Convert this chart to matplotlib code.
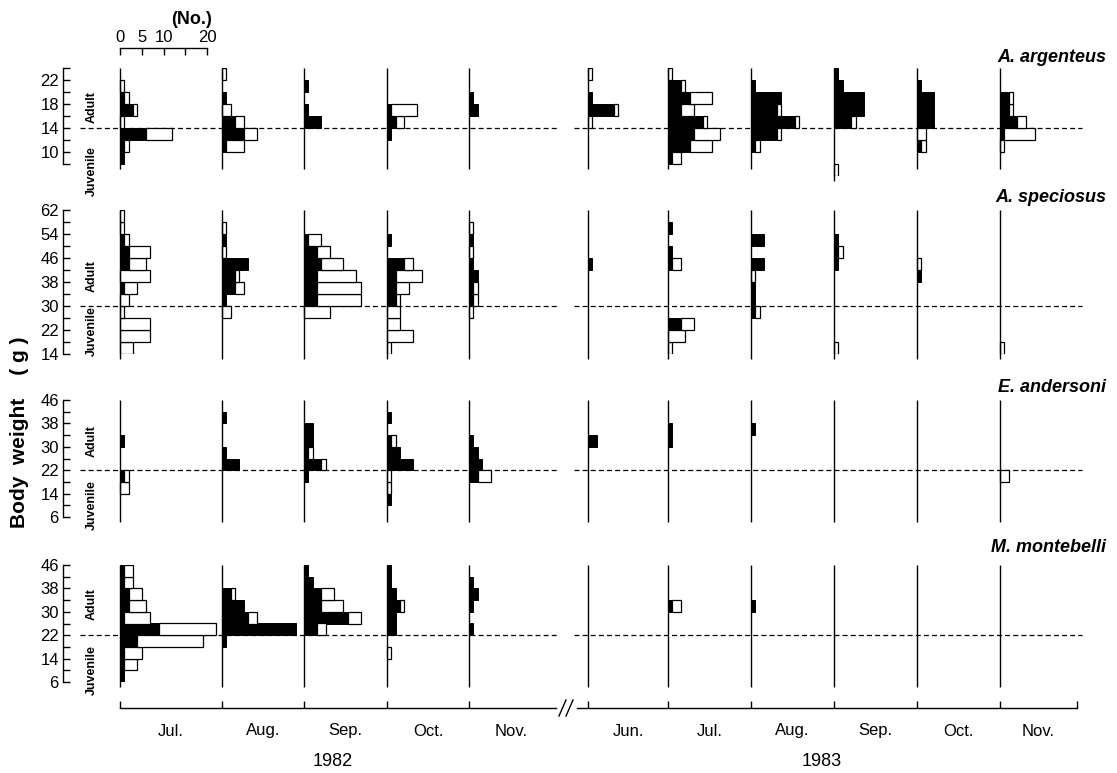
import matplotlib
matplotlib.use("Agg")
import matplotlib.pyplot as plt
import numpy as np

# sampling occasions: 1982 Jul..Nov, 1983 Jun..Nov
months = ["Jul.", "Aug.", "Sep.", "Oct.", "Nov.", "Jun.", "Jul.", "Aug.", "Sep.", "Oct.", "Nov."]
years = ["1982", "1983"]
species = ["A. argenteus", "A. speciosus", "E. andersoni", "M. montebelli"]

# A. argenteus, 2 g classes (lower edges)
arg_bins = [6, 8, 10, 12, 14, 16, 18, 20, 22]
arg_black = [
    [0, 1, 1, 6, 0, 3, 1, 0, 0],
    [0, 0, 1, 5, 3, 0, 1, 0, 0],
    [0, 0, 0, 0, 4, 1, 0, 1, 0],
    [0, 0, 0, 1, 2, 1, 0, 0, 0],
    [0, 0, 0, 0, 0, 2, 1, 0, 0],
    [0, 0, 0, 0, 0, 6, 1, 0, 0],
    [0, 1, 5, 6, 8, 3, 5, 3, 0],
    [0, 0, 1, 6, 10, 6, 7, 1, 0],
    [0, 0, 0, 0, 4, 7, 7, 2, 1],
    [0, 0, 1, 0, 4, 4, 4, 1, 0],
    [0, 0, 0, 1, 4, 2, 2, 0, 0],
]
arg_white = [
    [0, 0, 1, 6, 1, 1, 1, 1, 0],
    [0, 0, 4, 3, 2, 2, 0, 0, 1],
    [0, 0, 0, 0, 0, 0, 0, 0, 0],
    [0, 0, 0, 0, 2, 6, 0, 0, 0],
    [0, 0, 0, 0, 0, 0, 0, 0, 0],
    [0, 0, 0, 0, 1, 1, 0, 0, 1],
    [0, 2, 5, 6, 1, 3, 5, 1, 1],
    [0, 0, 1, 1, 1, 1, 0, 0, 0],
    [1, 0, 0, 0, 1, 0, 0, 0, 0],
    [0, 0, 1, 2, 0, 0, 0, 0, 0],
    [0, 0, 1, 7, 2, 1, 1, 0, 0],
]

# A. speciosus, 4 g classes
spe_bins = [14, 18, 22, 26, 30, 34, 38, 42, 46, 50, 54, 58]
spe_black = [
    [0, 0, 0, 0, 0, 1, 0, 2, 2, 1, 0, 0],
    [0, 0, 0, 0, 1, 3, 3, 6, 0, 1, 0, 0],
    [0, 0, 0, 0, 3, 3, 3, 4, 3, 1, 0, 0],
    [0, 0, 0, 0, 2, 2, 2, 4, 0, 1, 0, 0],
    [0, 0, 0, 0, 1, 1, 2, 1, 0, 1, 0, 0],
    [0, 0, 0, 0, 0, 0, 0, 1, 0, 0, 0, 0],
    [0, 0, 3, 0, 0, 0, 0, 1, 1, 0, 1, 0],
    [0, 0, 0, 1, 1, 1, 0, 3, 0, 3, 0, 0],
    [0, 0, 0, 0, 0, 0, 0, 1, 1, 1, 0, 0],
    [0, 0, 0, 0, 0, 0, 1, 0, 0, 0, 0, 0],
    [0, 0, 0, 0, 0, 0, 0, 0, 0, 0, 0, 0],
]
spe_white = [
    [3, 7, 7, 1, 2, 3, 7, 4, 5, 1, 1, 1],
    [0, 0, 0, 2, 0, 2, 1, 0, 1, 0, 1, 0],
    [0, 0, 0, 6, 10, 10, 9, 5, 3, 3, 0, 0],
    [1, 6, 3, 3, 1, 3, 6, 2, 0, 0, 0, 0],
    [0, 0, 0, 1, 1, 1, 0, 0, 1, 0, 1, 0],
    [0, 0, 0, 0, 0, 0, 0, 0, 0, 0, 0, 0],
    [1, 4, 3, 0, 0, 0, 0, 2, 0, 0, 0, 0],
    [0, 0, 0, 1, 0, 0, 1, 0, 0, 0, 0, 0],
    [1, 0, 0, 0, 0, 0, 0, 0, 1, 0, 0, 0],
    [0, 0, 0, 0, 0, 0, 0, 1, 0, 0, 0, 0],
    [1, 0, 0, 0, 0, 0, 0, 0, 0, 0, 0, 0],
]

# E. andersoni, 4 g classes
ande_bins = [6, 10, 14, 18, 22, 26, 30, 34, 38, 42]
ande_black = [
    [0, 0, 0, 1, 0, 0, 1, 0, 0, 0],
    [0, 0, 0, 0, 4, 1, 0, 0, 1, 0],
    [0, 0, 0, 1, 4, 1, 2, 2, 0, 0],
    [0, 1, 0, 0, 6, 3, 1, 0, 1, 0],
    [0, 0, 0, 2, 3, 2, 1, 0, 0, 0],
    [0, 0, 0, 0, 0, 0, 2, 0, 0, 0],
    [0, 0, 0, 0, 0, 0, 1, 1, 0, 0],
    [0, 0, 0, 0, 0, 0, 0, 1, 0, 0],
    [0, 0, 0, 0, 0, 0, 0, 0, 0, 0],
    [0, 0, 0, 0, 0, 0, 0, 0, 0, 0],
    [0, 0, 0, 0, 0, 0, 0, 0, 0, 0],
]
ande_white = [
    [0, 0, 2, 1, 0, 0, 0, 0, 0, 0],
    [0, 0, 0, 0, 0, 0, 0, 0, 0, 0],
    [0, 0, 0, 0, 1, 1, 0, 0, 0, 0],
    [0, 0, 1, 1, 0, 0, 1, 0, 0, 0],
    [0, 0, 0, 3, 0, 0, 0, 0, 0, 0],
    [0, 0, 0, 0, 0, 0, 0, 0, 0, 0],
    [0, 0, 0, 0, 0, 0, 0, 0, 0, 0],
    [0, 0, 0, 0, 0, 0, 0, 0, 0, 0],
    [0, 0, 0, 0, 0, 0, 0, 0, 0, 0],
    [0, 0, 0, 0, 0, 0, 0, 0, 0, 0],
    [0, 0, 0, 2, 0, 0, 0, 0, 0, 0],
]

# M. montebelli, 4 g classes
mont_bins = [6, 10, 14, 18, 22, 26, 30, 34, 38, 42]
mont_black = [
    [1, 1, 1, 4, 9, 1, 2, 2, 1, 1],
    [0, 0, 0, 1, 17, 6, 5, 2, 0, 0],
    [0, 0, 0, 0, 3, 10, 4, 4, 2, 1],
    [0, 0, 0, 0, 2, 2, 3, 2, 1, 1],
    [0, 0, 0, 0, 1, 0, 1, 2, 1, 0],
    [0, 0, 0, 0, 0, 0, 0, 0, 0, 0],
    [0, 0, 0, 0, 0, 0, 1, 0, 0, 0],
    [0, 0, 0, 0, 0, 0, 1, 0, 0, 0],
    [0, 0, 0, 0, 0, 0, 0, 0, 0, 0],
    [0, 0, 0, 0, 0, 0, 0, 0, 0, 0],
    [0, 0, 0, 0, 0, 0, 0, 0, 0, 0],
]
mont_white = [
    [0, 3, 4, 15, 13, 6, 4, 3, 2, 2],
    [0, 0, 0, 0, 0, 2, 0, 1, 0, 0],
    [0, 0, 0, 0, 2, 3, 5, 3, 0, 0],
    [0, 0, 1, 0, 0, 0, 1, 0, 0, 0],
    [0, 0, 0, 0, 0, 0, 0, 0, 0, 0],
    [0, 0, 0, 0, 0, 0, 0, 0, 0, 0],
    [0, 0, 0, 0, 0, 0, 2, 0, 0, 0],
    [0, 0, 0, 0, 0, 0, 0, 0, 0, 0],
    [0, 0, 0, 0, 0, 0, 0, 0, 0, 0],
    [0, 0, 0, 0, 0, 0, 0, 0, 0, 0],
    [0, 0, 0, 0, 0, 0, 0, 0, 0, 0],
]

adult_limit = [14, 30, 22, 22]

# ---- layout (pixels of the 1117x773 page) ----
W, H = 1117, 773
PX_FISH = 4.35                       # horizontal pixels per fish
base_px = [120, 222, 304, 387, 469, 588, 668, 751, 834, 917, 1000]
year_end_px = [553, 1077]
spine_px = 63
row_px = [(68, 176), (210, 354), (400, 517), (565, 682)]
row_lim = [(6, 24), (14, 62), (6, 46), (6, 46)]
spine_lim = [(8, 24), (14, 62), (6, 46), (6, 46)]
minor_step = [2, 4, 4, 4]
major_ticks = [[10, 14, 18, 22], [14, 22, 30, 38, 46, 54, 62],
               [6, 14, 22, 30, 38, 46], [6, 14, 22, 30, 38, 46]]
name_y = [58, 197, 387, 547]
adult_y = [17.5, 40, 32, 32.5]
juv_y = [6.8, 21.5, 10, 10]

plt.rcParams['font.family'] = ['Liberation Sans', 'DejaVu Sans']

fig = plt.figure(figsize=(W / 100, H / 100), dpi=100)
lay = fig.add_axes([0, 0, 1, 1])
lay.set_xlim(0, W)
lay.set_ylim(H, 0)
lay.axis("off")

all_bins = [arg_bins, spe_bins, ande_bins, mont_bins]
all_black = [arg_black, spe_black, ande_black, mont_black]
all_white = [arg_white, spe_white, ande_white, mont_white]
bin_w = [2, 4, 4, 4]

base = np.array(base_px) / PX_FISH

for r in range(4):
    top, bot = row_px[r]
    ax = fig.add_axes([0, 1 - bot / H, 1, (bot - top) / H])
    ax.patch.set_visible(False)
    ax.set_xlim(0, W / PX_FISH)
    ax.set_ylim(*row_lim[r])
    for s in ["top", "right", "bottom"]:
        ax.spines[s].set_visible(False)
    ax.spines["left"].set_position(("data", spine_px / PX_FISH))
    ax.spines["left"].set_bounds(*spine_lim[r])
    ax.spines["left"].set_linewidth(1.0)
    ax.set_xticks([])
    lo, hi = spine_lim[r]
    ax.set_yticks(major_ticks[r])
    ax.set_yticks(np.arange(lo, hi + 0.1, minor_step[r]), minor=True)
    ax.tick_params(axis="y", which="both", direction="in", length=5, width=1.0,
                   pad=3, labelsize=12)

    y = np.array(all_bins[r], float)
    bw = bin_w[r]
    for i in range(len(base)):
        b = np.array(all_black[r][i], float)
        w = np.array(all_white[r][i], float)
        mb = b > 0
        ax.barh(y[mb], b[mb], height=bw, left=base[i], align="edge",
                color="black", edgecolor="black", linewidth=0.7, zorder=2)
        mw = w > 0
        ax.barh(y[mw], w[mw], height=bw, left=base[i] + b[mw], align="edge",
                color="white", edgecolor="black", linewidth=0.9, zorder=2)
        filled = y[mb | mw]
        ylo = min(lo, filled.min()) if len(filled) else lo
        ax.vlines(base[i], ylo - 0.4 * bw, hi, color="black", linewidth=1.0,
                  zorder=3, clip_on=False)

    thr = adult_limit[r]
    ax.hlines(thr, 80 / PX_FISH, 557 / PX_FISH, color="black", linewidth=0.9,
              linestyles=(0, (4, 2.5)), zorder=1)
    ax.hlines(thr, 574 / PX_FISH, 1082 / PX_FISH, color="black", linewidth=0.9,
              linestyles=(0, (4, 2.5)), zorder=1)

    ax.text(92 / PX_FISH, adult_y[r], "Adult", rotation=90, ha="center", va="center",
            fontsize=9, fontweight="bold", clip_on=False)
    ax.text(92 / PX_FISH, juv_y[r], "Juvenile", rotation=90, ha="center", va="center",
            fontsize=9, fontweight="bold", clip_on=False)

    lay.text(1106, name_y[r], species[r], ha="right", va="center", fontsize=13,
             fontweight="bold", style="italic")

# scale bar (No.)
sb = fig.add_axes([base_px[0] / W, 1 - 54 / H, 20 * PX_FISH / W, 6 / H])
sb.patch.set_visible(False)
sb.set_xlim(0, 20)
for s in ["bottom", "left", "right"]:
    sb.spines[s].set_visible(False)
sb.spines["top"].set_linewidth(1.0)
sb.set_yticks([])
sb.set_xticks([0, 5, 10, 15, 20])
sb.set_xticklabels(["0", "5", "10", "", "20"])
sb.tick_params(axis="x", bottom=False, top=True, labelbottom=False, labeltop=True,
               direction="in", length=5, width=1.0, pad=2, labelsize=12)
lay.text(192, 20, "(No.)", ha="center", va="center", fontsize=13, fontweight="bold")

# body weight label
lay.text(20, 432, "Body  weight    ( g )", rotation=90, ha="center", va="center",
         fontsize=15, fontweight="bold")

# bottom time axis
ax_y = 708
lay.plot([base_px[0], 556], [ax_y, ax_y], color="black", lw=1.0)
lay.plot([577, year_end_px[1]], [ax_y, ax_y], color="black", lw=1.0)
lay.vlines(base_px + [year_end_px[1]], ax_y - 7, ax_y, color="black", lw=1.0)
lay.plot([559, 566], [716, 700], color="black", lw=1.0)
lay.plot([566, 573], [716, 700], color="black", lw=1.0)
for i, m in enumerate(months):
    if i in (4, 10):
        nxt = year_end_px[0] if i == 4 else year_end_px[1]
    else:
        nxt = base_px[i + 1]
    lay.text((base_px[i] + nxt) / 2, 731, m, ha="center", va="center", fontsize=12)
lay.text(333, 762, years[0], ha="center", va="center", fontsize=13)
lay.text(822, 762, years[1], ha="center", va="center", fontsize=13)

fig.savefig("out.png", dpi=100)
